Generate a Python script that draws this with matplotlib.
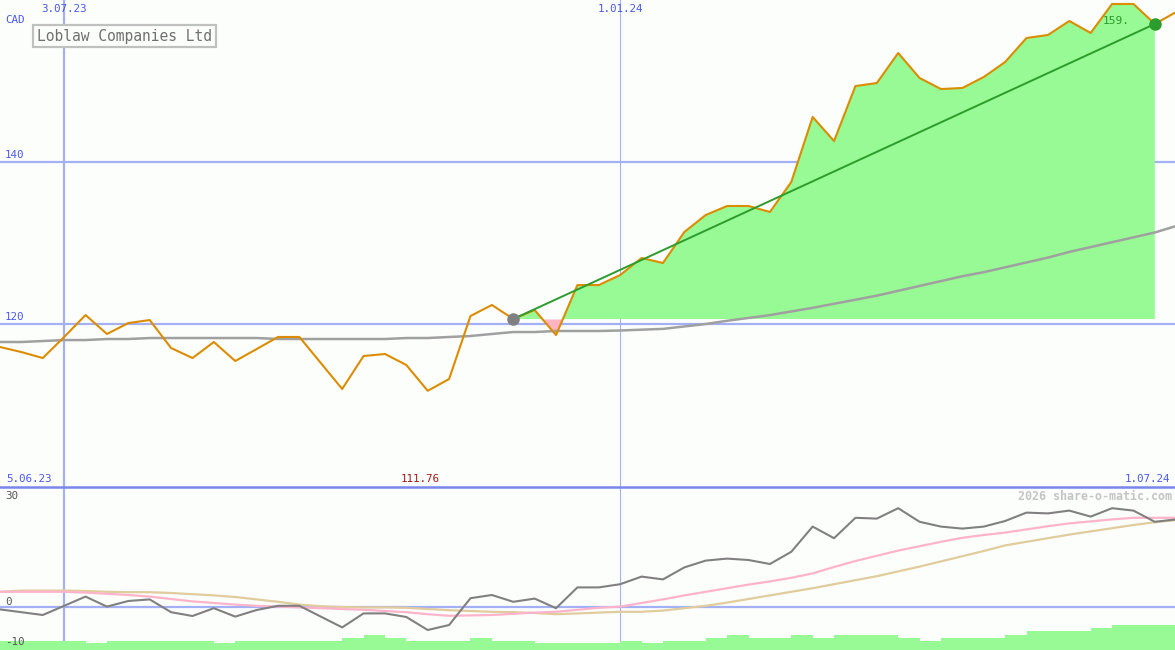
import numpy as np
import pandas as pd
import matplotlib
matplotlib.use("Agg")
import matplotlib.pyplot as plt
from matplotlib.lines import Line2D

plt.rcParams['font.family'] = ['DejaVu Sans Mono']

# weekly data, starting monday 12.06.23
dates = pd.date_range('2023-06-12', periods=56, freq='7D')

price = [117.16, 116.54, 115.80, 118.40, 121.11, 118.77, 120.12, 120.49, 117.04, 115.80,
         117.78, 115.43, 116.91, 118.40, 118.40, 115.19, 111.98, 116.05, 116.30, 114.94,
         111.76, 113.21, 120.99, 122.35, 120.62, 121.73, 118.64, 124.81, 124.81, 126.05,
         128.15, 127.53, 131.36, 133.46, 134.57, 134.57, 133.83, 137.53, 145.56, 142.59,
         149.38, 149.75, 153.46, 150.37, 149.01, 149.14, 150.49, 152.35, 155.31, 155.68,
         157.41, 155.93, 159.51, 159.51, 157.04, 158.52]

ma_long = [117.78, 117.78, 117.90, 118.02, 118.02, 118.15, 118.15, 118.27, 118.27, 118.27,
           118.27, 118.27, 118.27, 118.15, 118.15, 118.15, 118.15, 118.15, 118.15, 118.27,
           118.27, 118.40, 118.52, 118.77, 119.01, 119.01, 119.14, 119.14, 119.14, 119.20,
           119.30, 119.40, 119.70, 120.00, 120.40, 120.75, 121.10, 121.55, 122.00, 122.50,
           123.00, 123.50, 124.10, 124.70, 125.30, 125.90, 126.40, 127.00, 127.60, 128.20,
           128.90, 129.50, 130.10, 130.70, 131.30, 132.10]

rel_perf = [-0.6, -1.3, -2.0, 0.3, 2.6, 0.1, 1.5, 1.9, -1.3, -2.25,
            -0.3, -2.4, -0.75, 0.3, 0.3, -2.4, -5.1, -1.6, -1.6, -2.5,
            -5.75, -4.5, 2.2, 3.0, 1.3, 2.1, -0.3, 4.9, 4.9, 5.7,
            7.6, 6.9, 9.9, 11.6, 12.1, 11.75, 10.75, 13.8, 20.1, 17.2,
            22.3, 22.1, 24.7, 21.3, 20.1, 19.6, 20.1, 21.5, 23.6, 23.4,
            24.1, 22.6, 24.7, 24.1, 21.3, 21.9]

avg_fast = [3.8, 3.8, 3.8, 3.8, 3.6, 3.3, 3.0, 2.6, 2.0, 1.4,
            1.0, 0.6, 0.3, 0.1, -0.1, -0.3, -0.5, -0.7, -1.0, -1.3,
            -1.8, -2.2, -2.1, -2.0, -1.7, -1.4, -1.2, -0.7, -0.2, 0.1,
            1.0, 1.9, 2.9, 3.8, 4.7, 5.6, 6.4, 7.3, 8.4, 10.0,
            11.5, 12.8, 14.1, 15.2, 16.3, 17.3, 18.0, 18.6, 19.4, 20.2,
            20.9, 21.4, 21.9, 22.3, 22.3, 22.3]

avg_slow = [3.8, 4.1, 4.1, 4.1, 4.0, 3.8, 3.7, 3.7, 3.5, 3.2,
            2.9, 2.5, 1.9, 1.3, 0.6, 0.2, 0.0, -0.1, -0.1, -0.2,
            -0.5, -0.8, -1.0, -1.2, -1.3, -1.5, -1.8, -1.6, -1.4, -1.2,
            -1.2, -0.9, -0.3, 0.3, 1.1, 2.0, 2.9, 3.8, 4.7, 5.7,
            6.7, 7.7, 8.9, 10.1, 11.4, 12.7, 14.0, 15.4, 16.3, 17.2,
            18.1, 18.9, 19.7, 20.5, 21.2, 21.75]

# green bars at the foot of the lower panel (height above panel bottom)
bar_h = [2.25, 2.25, 2.25, 2.25, 1.7, 2.25, 2.25, 2.25, 2.25, 2.25,
         1.7, 2.25, 2.25, 2.25, 2.25, 2.25, 3.0, 3.75, 3.0, 2.25,
         2.25, 2.25, 3.0, 2.25, 2.25, 1.7, 1.7, 1.7, 1.7, 2.25,
         1.7, 2.25, 2.25, 3.0, 3.75, 3.0, 3.0, 3.75, 3.0, 3.75,
         3.75, 3.75, 3.0, 2.25, 3.0, 3.0, 3.0, 3.75, 4.75, 4.75,
         4.75, 5.5, 6.25, 6.25, 6.25, 6.25]

start_i = 24
end_i = 54
min_label = '111.76'
last_label = '159.'
title = 'Loblaw Companies Ltd'

bg = '#fcfefc'
grid_c = '#a4b0f4'
sep_c = '#7a86ec'
lab_c = '#4a58ec'
orange = '#dc8c00'
green_fill = '#98fa94'
trend_c = '#2c9c2c'

W, H = 1175, 650
fig = plt.figure(figsize=(W / 100, H / 100), dpi=100, facecolor=bg)
split = 487
ax = fig.add_axes([0, 1 - split / H, 1, split / H])
ax2 = fig.add_axes([0, 0, 1, 1 - split / H])

x0 = dates[0]
x1 = dates[0] + pd.Timedelta(days=384.6)
for a in (ax, ax2):
    a.set_facecolor(bg)
    a.set_xlim(x0, x1)
    for s in a.spines.values():
        s.set_visible(False)
    a.set_xticks([])
    a.set_yticks([])

vlines = [pd.Timestamp('2023-07-03'), pd.Timestamp('2024-01-01')]
vlabels = ['3.07.23', '1.01.24']
vwidth = [1.6, 0.8]

# ---- upper panel ----
ax.set_ylim(99.88, 160)
for v, w in zip(vlines, vwidth):
    ax.axvline(v, color=grid_c, lw=w, zorder=1)
for lvl in (120, 140):
    ax.axhline(lvl, color=grid_c, lw=1.6, zorder=1)
    ax.text(5 / W, lvl + 0.25, str(lvl), transform=ax.get_yaxis_transform(),
            fontsize=7.8, color=lab_c, va='bottom', ha='left')

p = np.array(price)
base = p[start_i]
xs = dates[start_i:end_i + 1]
ys = p[start_i:end_i + 1]
ax.fill_between(xs, ys, base, where=ys >= base, interpolate=True,
                color=green_fill, lw=0, zorder=2)
ax.fill_between(xs, ys, base, where=ys < base, interpolate=True,
                color='#ffb4c4', lw=0, zorder=2)

ax.plot(dates, ma_long, color='#a0a0a0', lw=1.8, zorder=3)
ax.plot(dates, price, color=orange, lw=1.5, zorder=4)
ax.plot([dates[start_i], dates[end_i]], [p[start_i], p[end_i]], color=trend_c, lw=1.4, zorder=5)
ax.plot(dates[start_i], p[start_i], 'o', color='#808080', ms=8, zorder=6)
ax.plot(dates[end_i], p[end_i], 'o', color=trend_c, ms=8, zorder=6)
ax.text(1130 / W, 1 - 21 / split, last_label, transform=ax.transAxes, fontsize=8,
        color='#2a9a2a', ha='right', va='center')

ax.text(5 / W, 1 - 20 / split, 'CAD', transform=ax.transAxes, fontsize=7.8,
        color=lab_c, ha='left', va='center')
for v, lab in zip(vlines, vlabels):
    ax.text(v, 1 - 9 / split, lab, transform=ax.get_xaxis_transform(), fontsize=7.8,
            color=lab_c, ha='center', va='center')
ax.text(37 / W, 1 - 36 / split, title, transform=ax.transAxes, fontsize=10.5,
        color='#707070', ha='left', va='center',
        bbox=dict(boxstyle='square,pad=0.25', fc=bg, ec='#c0c0c0', lw=1.6))
ax.text(6 / W, 8 / split, '5.06.23', transform=ax.transAxes, fontsize=7.8,
        color=lab_c, ha='left', va='center')
ax.text(1170 / W, 8 / split, '1.07.24', transform=ax.transAxes, fontsize=7.8,
        color=lab_c, ha='right', va='center')
ax.text(420 / W, 8 / split, min_label, transform=ax.transAxes, fontsize=7.8,
        color='#a01818', ha='center', va='center')

# ---- lower panel ----
lo, hi = -10.75, 30
ax2.set_ylim(lo, hi)
for v, w in zip(vlines, vwidth):
    ax2.axvline(v, color=grid_c, lw=w, zorder=1)
ax2.axhline(0, color=grid_c, lw=1.6, zorder=1)
ax2.fill_between(dates, lo, lo + np.array(bar_h), step='post', color=green_fill, lw=0, zorder=2)
ax2.plot(dates, avg_slow, color='#e0cc9c', lw=1.6, zorder=3)
ax2.plot(dates, avg_fast, color='#ffb4cc', lw=1.6, zorder=3)
ax2.plot(dates, rel_perf, color='#808080', lw=1.5, zorder=4)

# level labels sit just under 30, just above 0 and -10
for val, off, lab in [(30, -2.25, '30'), (0, 1.25, '0'), (-10, 1.25, '-10')]:
    ax2.text(5 / W, val + off, lab, transform=ax2.get_yaxis_transform(), fontsize=7.8,
             color='#555555', ha='left', va='center', zorder=7)
ax2.text(1172 / W, 1 - 9 / (H - split), '2026 share-o-matic.com', transform=ax2.transAxes,
         fontsize=8.4, color='#c4c4c4', ha='right', va='center', fontweight='bold')

# panel separator
yy = 1 - split / H
fig.add_artist(Line2D([0, 1], [yy, yy], color=sep_c, lw=1.8, zorder=10))

fig.savefig('out.png', dpi=100, facecolor=bg)
